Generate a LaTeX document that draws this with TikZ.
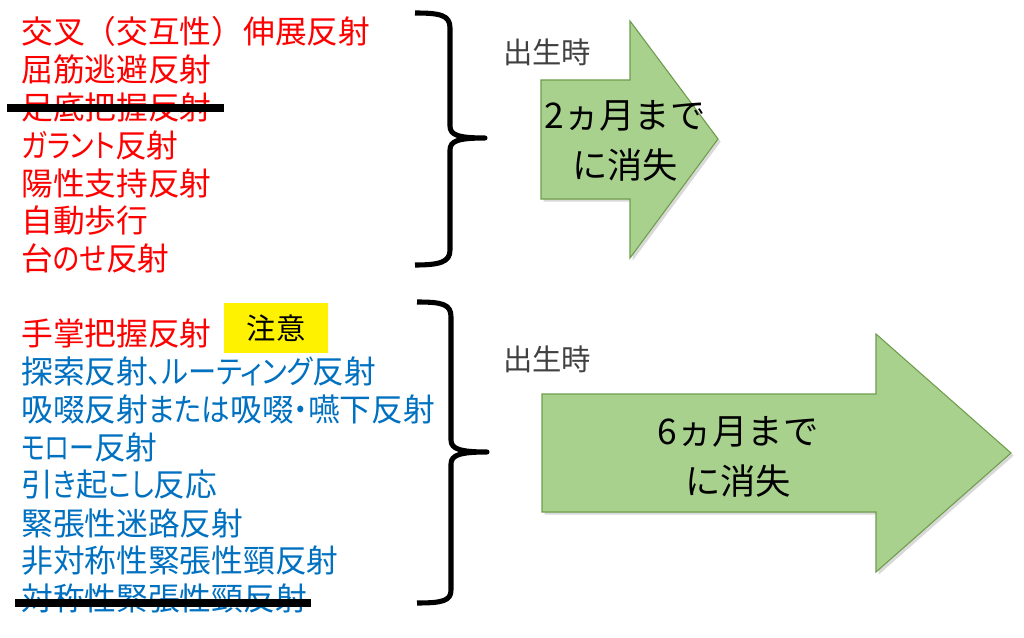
\documentclass[tikz,border=0pt]{standalone}
\usepackage{fontspec}
\usepackage{graphicx}
\setmainfont{Noto Sans CJK JP}
\newfontfamily\paltfont{Noto Sans CJK JP}[RawFeature=+palt]
\newcommand{\kanarun}[2]{\scalebox{#1}[1]{#2}}
\usetikzlibrary{shadows}
\definecolor{jred}{HTML}{FF0000}
\definecolor{jblue}{HTML}{0070C0}
\definecolor{agreen}{HTML}{A9D18E}
\definecolor{agreenb}{HTML}{6E9D4B}
\definecolor{birth}{HTML}{404040}
\tikzset{
 item/.style={anchor=west, inner sep=0pt, font=\paltfont\fontsize{23.8}{28}\selectfont},
 plainitem/.style={anchor=west, inner sep=0pt, font=\fontsize{23.8}{28}\selectfont},
 reditem/.style={item, text=jred},
 blueitem/.style={item, text=jblue},
 strike/.style={line width=6pt, black},
 bracket/.style={line width=3.8pt, black, line join=round},
 birthlbl/.style={inner sep=0pt, text=birth, font=\fontsize{22}{26}\selectfont},
 bigarrow/.style={fill=agreen, draw=agreenb, line width=0.8pt, drop shadow={shadow xshift=2pt, shadow yshift=-2pt, opacity=0.3}},
 arrowlbl/.style={align=center, inner sep=0pt, font=\fontsize{26.5}{38}\selectfont},
 notebox/.style={fill=yellow, minimum width=78pt, minimum height=37.5pt, inner sep=0pt, font=\fontsize{22}{26}\selectfont}
}
\begin{document}
\begin{tikzpicture}[x=0.75pt,y=-0.75pt]
\useasboundingbox (0,0) rectangle (1024,638);
% top list
\node[plainitem, text=jred] (t1) at (21,31) {交叉（交互性）伸展反射};
\node[reditem] (t2) at (21,69) {屈筋逃避反射};
\node[reditem] (t3) at (21,107) {足底把握反射};
\node[reditem] (t4) at (21,145) {\kanarun{0.85}{ガラント}反射};
\node[reditem] (t5) at (21,183) {陽性支持反射};
\node[reditem] (t6) at (21,221) {自動歩行};
\node[reditem] (t7) at (21,258) {台\kanarun{0.87}{のせ}反射};
\coordinate (s1a) at (7,108);
\coordinate (s1b) at (224,108);
\draw[strike] (s1a) -- (s1b);
% top brace
\draw[bracket] (415,13) .. controls (440,13) and (450,15) .. (450,28) -- (450,126)
  .. controls (450,135) and (458,138) .. (485,138)
  .. controls (458,138) and (450,141) .. (450,150) -- (450,250)
  .. controls (450,262) and (440,265) .. (415,265);
% bottom list
\node[reditem] (b1) at (21,333) {手掌把握反射};
\node[notebox] (note) at (276,328) {注意};
\node[blueitem] (b2) at (21,371) {探索反射\kanarun{0.89}{、ルーティング}反射};
\node[blueitem] (b3) at (21,409) {吸啜反射\kanarun{0.9}{または}吸啜\kanarun{0.9}{・}嚥下反射};
\node[blueitem] (b4) at (21,447) {\kanarun{0.79}{モロー}反射};
\node[blueitem] (b5) at (21,485) {引\kanarun{0.84}{き}起\kanarun{0.84}{こし}反応};
\node[blueitem] (b6) at (21,523) {緊張性迷路反射};
\node[blueitem] (b7) at (21,561) {非対称性緊張性頸反射};
\node[blueitem] (b8) at (21,598) {対称性緊張性頸反射};
\coordinate (s2a) at (15,603);
\coordinate (s2b) at (311,603);
\draw[strike] (s2a) -- (s2b);
% bottom brace
\draw[bracket] (417,302) .. controls (442,302) and (451,304) .. (451,317) -- (451,440)
  .. controls (451,449) and (460,452) .. (487,452)
  .. controls (460,452) and (451,455) .. (451,464) -- (451,590)
  .. controls (451,601) and (442,603) .. (417,603);
% birth labels
\node[birthlbl] (birth1) at (547,52) {出生時};
\node[birthlbl] (birth2) at (547,359) {出生時};
% arrows
\path[bigarrow] (541,80) -- (630,80) -- (630,21) -- (718,139) -- (630,258) -- (630,199) -- (541,199) -- cycle;
\node[arrowlbl] (a1) at (625,141) {2ヵ月まで\\に消失};
\path[bigarrow] (542,394) -- (876,394) -- (876,334) -- (1011,453) -- (876,572) -- (876,512) -- (542,512) -- cycle;
\node[arrowlbl] (a2) at (738,457) {6ヵ月まで\\に消失};
\end{tikzpicture}
\end{document}
